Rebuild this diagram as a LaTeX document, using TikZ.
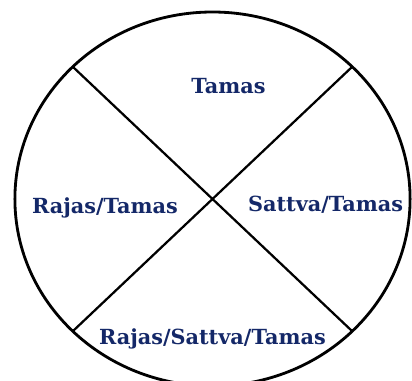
\documentclass[tikz,border=0pt]{standalone}
\usepackage{fontspec}
\setmainfont{DejaVu Serif}
\usepackage{xcolor}
\usepackage{tikz}
\usetikzlibrary{positioning, calc}

\definecolor{gunablue}{RGB}{20,40,104}

\tikzset{
  guna/.style={font=\bfseries\fontsize{14.8}{16}\selectfont, text=gunablue, anchor=base, inner sep=0pt},
  rim/.style={line width=2pt},
  spoke/.style={line width=1.6pt}
}

\begin{document}
\begin{tikzpicture}
\useasboundingbox (0,0) rectangle (10.3,9.525);

% Outer ring
\coordinate (c) at (5.3125,4.55);
\draw[rim] (c) ellipse (4.94 and 4.675);

% Points on the ring for the two diagonals
\foreach \a/\n in {45/ne,135/nw,225/sw,315/se} {
   \path (c) ++(\a:4.94 and 4.675) coordinate (\n);
}
\draw[spoke] (nw) -- (se);
\draw[spoke] (ne) -- (sw);

% Labels
\node[guna] (top) at (5.71,7.175) {Tamas};
\node[guna] (left) at (2.625,4.175) {Rajas/Tamas};
\node[guna] (right) at (8.14,4.225) {Sattva/Tamas};
\node[guna] (bottom) at (5.31,0.9) {Rajas/Sattva/Tamas};
\end{tikzpicture}
\end{document}
